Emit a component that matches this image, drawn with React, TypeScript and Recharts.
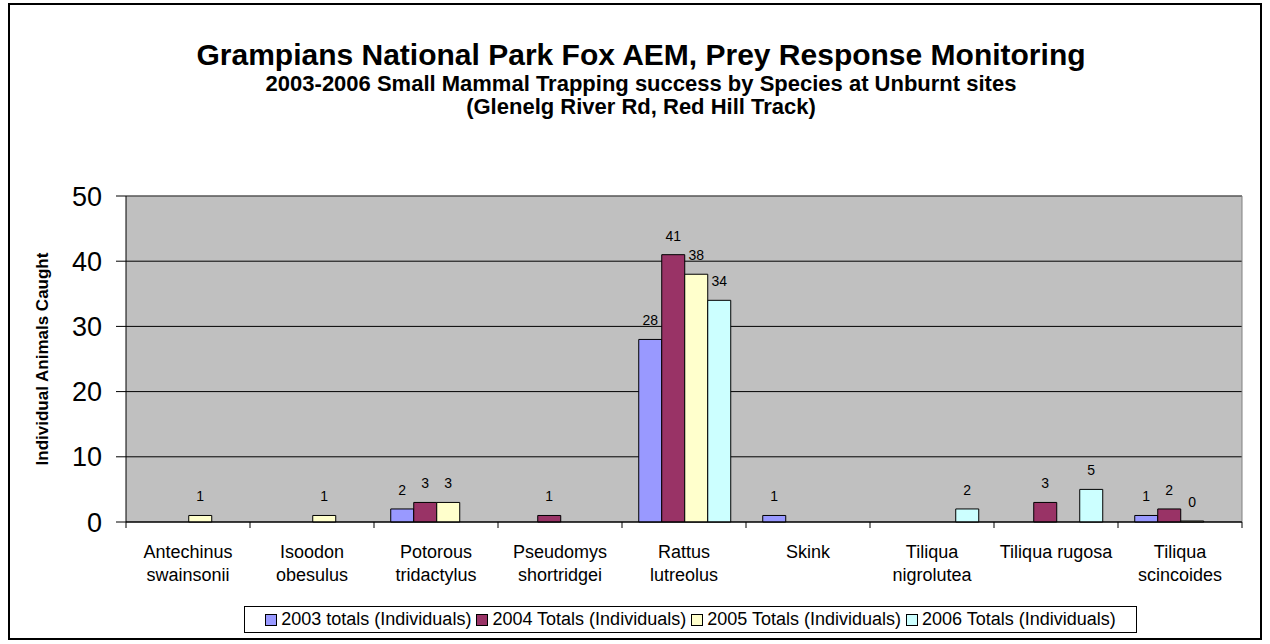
import { BarChart, Bar, XAxis, YAxis, CartesianGrid, Legend, LabelList, Label } from 'recharts'

const species = [
  'Antechinus swainsonii',
  'Isoodon obesulus',
  'Potorous tridactylus',
  'Pseudomys shortridgei',
  'Rattus lutreolus',
  'Skink',
  'Tiliqua nigrolutea',
  'Tiliqua rugosa',
  'Tiliqua scincoides',
]
// how each category label wraps onto lines
const speciesLines = [
  ['Antechinus', 'swainsonii'],
  ['Isoodon', 'obesulus'],
  ['Potorous', 'tridactylus'],
  ['Pseudomys', 'shortridgei'],
  ['Rattus', 'lutreolus'],
  ['Skink'],
  ['Tiliqua', 'nigrolutea'],
  ['Tiliqua rugosa'],
  ['Tiliqua', 'scincoides'],
]

const totals2003 = [null, null, 2, null, 28, 1, null, null, 1]
const totals2004 = [null, null, 3, 1, 41, null, null, 3, 2]
const totals2005 = [1, 1, 3, null, 38, null, null, null, 0]
const totals2006 = [null, null, null, null, 34, null, 2, 5, null]

const yTicks = [0, 10, 20, 30, 40, 50]

const seriesNames = [
  '2003 totals (Individuals)',
  '2004 Totals (Individuals)',
  '2005 Totals (Individuals)',
  '2006 Totals (Individuals)',
]
const seriesColors = ['#9999ff', '#993366', '#ffffcc', '#ccffff']

const data = species.map((s, i) => ({
  species: s,
  y2003: totals2003[i],
  y2004: totals2004[i],
  y2005: totals2005[i],
  y2006: totals2006[i],
}))

const FONT = '"Liberation Sans", Arial, sans-serif'

function SpeciesTick(props: any) {
  const { x, y, index, width, visibleTicksCount } = props
  const band = width / visibleTicksCount
  const axisY = y - 6
  const lines = speciesLines[index] || []
  return (
    <g>
      <line x1={x - band / 2} x2={x - band / 2} y1={axisY} y2={axisY + 6} stroke="#000" />
      {index === visibleTicksCount - 1 && (
        <line x1={x + band / 2} x2={x + band / 2} y1={axisY} y2={axisY + 6} stroke="#000" />
      )}
      {lines.map((l, i) => (
        <text key={i} x={x} y={axisY + 36 + i * 23} textAnchor="middle" fontSize={18} fontFamily={FONT} fill="#000">
          {l}
        </text>
      ))}
    </g>
  )
}

function BarValue(props: any) {
  const { x, y, width, value } = props
  if (value === null || value === undefined) return null
  return (
    <text x={x + width / 2} y={y - 14} textAnchor="middle" fontSize={14} fontFamily={FONT} fill="#000">
      {value}
    </text>
  )
}

// a zero count still gets its label, so give it a hairline bar
const zeroPoint = (v: any) => (v === 0 ? 1 : 0)

function LegendBox() {
  return (
    <div
      style={{
        display: 'flex',
        alignItems: 'center',
        justifyContent: 'center',
        border: '1px solid #000',
        height: 27,
        boxSizing: 'border-box',
        fontFamily: FONT,
        fontSize: 18,
        background: '#fff',
        whiteSpace: 'nowrap',
      }}
    >
      {seriesNames.map((n, i) => (
        <span key={n} style={{ display: 'inline-flex', alignItems: 'center', marginRight: i < 3 ? 5 : 0 }}>
          <span
            style={{
              display: 'inline-block',
              width: 10,
              height: 10,
              border: '1px solid #000',
              background: seriesColors[i],
              marginRight: 4,
            }}
          />
          {n}
        </span>
      ))}
    </div>
  )
}

export default function App() {
  return (
    <div style={{ position: 'absolute', left: 0, top: 0, width: 1270, height: 644, background: '#fff', fontFamily: FONT }}>
      <div
        style={{
          position: 'absolute',
          left: 8,
          top: 3,
          width: 1254,
          height: 637,
          border: '2px solid #000',
          boxSizing: 'border-box',
        }}
      />
      <div style={{ position: 'absolute', left: 6, width: 1270, top: 40, textAlign: 'center', fontWeight: 'bold', fontSize: 30, lineHeight: '30px' }}>
        Grampians National Park Fox AEM, Prey Response Monitoring
      </div>
      <div style={{ position: 'absolute', left: 6, width: 1270, top: 73, textAlign: 'center', fontWeight: 'bold', fontSize: 22, lineHeight: '22px' }}>
        2003-2006 Small Mammal Trapping success by Species at Unburnt sites
      </div>
      <div style={{ position: 'absolute', left: 6, width: 1270, top: 96, textAlign: 'center', fontWeight: 'bold', fontSize: 22, lineHeight: '22px' }}>
        (Glenelg River Rd, Red Hill Track)
      </div>
      <div style={{ position: 'absolute', left: 0, top: 0 }}>
        <BarChart
          width={1270}
          height={644}
          data={data}
          margin={{ top: 196, right: 28, left: 0, bottom: 11 }}
          barCategoryGap="13.5%"
          barGap={0}
        >
          <CartesianGrid fill="#c0c0c0" stroke="#000" vertical={false} />
          <CartesianGrid
            stroke="#808080"
            horizontalCoordinatesGenerator={({ offset }: any) => [offset.top]}
            verticalCoordinatesGenerator={({ offset }: any) => [offset.left + offset.width]}
          />
          <XAxis
            dataKey="species"
            height={84}
            interval={0}
            axisLine={{ stroke: '#000' }}
            tickLine={false}
            tickSize={6}
            tickMargin={0}
            tick={<SpeciesTick />}
          />
          <YAxis
            width={126}
            domain={[0, 50]}
            ticks={yTicks}
            interval={0}
            axisLine={{ stroke: '#000' }}
            tickLine={{ stroke: '#000' }}
            tickSize={10}
            tickMargin={14}
            tick={{ fill: '#000', fontSize: 27, fontFamily: FONT }}
          >
            <Label
              value="Individual Animals Caught"
              angle={-90}
              position="insideLeft"
              offset={42}
              style={{ textAnchor: 'middle', fontWeight: 'bold', fontSize: 17, fontFamily: FONT, fill: '#000' }}
            />
          </YAxis>
          <Legend
            verticalAlign="bottom"
            align="center"
            content={<LegendBox />}
            wrapperStyle={{ height: 27, left: 244, width: 893 }}
          />
          <Bar dataKey="y2003" name={seriesNames[0]} fill={seriesColors[0]} stroke="#000" strokeWidth={1} isAnimationActive={false}>
            <LabelList dataKey="y2003" content={<BarValue />} />
          </Bar>
          <Bar dataKey="y2004" name={seriesNames[1]} fill={seriesColors[1]} stroke="#000" strokeWidth={1} isAnimationActive={false}>
            <LabelList dataKey="y2004" content={<BarValue />} />
          </Bar>
          <Bar
            dataKey="y2005"
            name={seriesNames[2]}
            fill={seriesColors[2]}
            stroke="#000"
            strokeWidth={1}
            minPointSize={zeroPoint}
            isAnimationActive={false}
          >
            <LabelList dataKey="y2005" content={<BarValue />} />
          </Bar>
          <Bar dataKey="y2006" name={seriesNames[3]} fill={seriesColors[3]} stroke="#000" strokeWidth={1} isAnimationActive={false}>
            <LabelList dataKey="y2006" content={<BarValue />} />
          </Bar>
        </BarChart>
      </div>
    </div>
  )
}
